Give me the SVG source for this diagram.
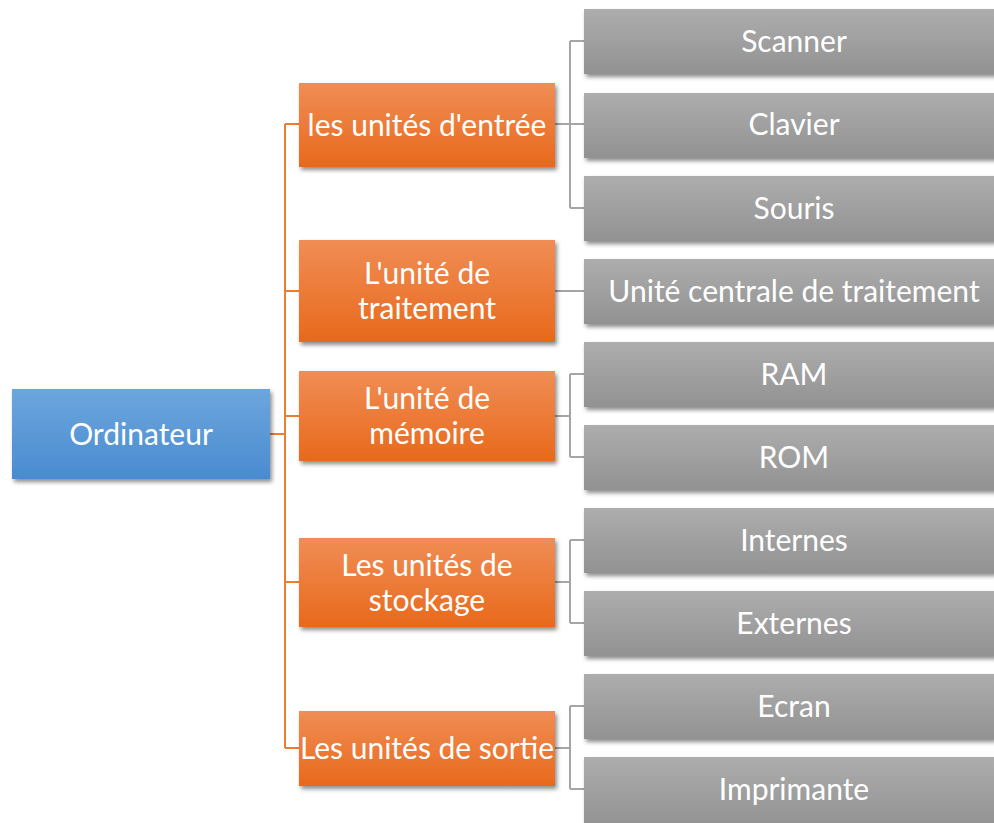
<svg xmlns="http://www.w3.org/2000/svg" width="994" height="823" viewBox="0 0 994 823">
<style>
text{font-family:Lato,"Open Sans","Liberation Sans",sans-serif;font-size:30px;fill:#ffffff;text-anchor:middle;dominant-baseline:central}
.oc{fill:none;stroke:#ed7d31;stroke-width:2}
.gc{fill:none;stroke:#a5a5a5;stroke-width:2}
</style>
<defs>
<linearGradient id="gb" x1="0" y1="0" x2="0" y2="1"><stop offset="0" stop-color="#6ca6dd"/><stop offset="1" stop-color="#4a8bd0"/></linearGradient>
<linearGradient id="go" x1="0" y1="0" x2="0" y2="1"><stop offset="0" stop-color="#f08d55"/><stop offset="1" stop-color="#e8691b"/></linearGradient>
<linearGradient id="gg" x1="0" y1="0" x2="0" y2="1"><stop offset="0" stop-color="#adadad"/><stop offset="1" stop-color="#929292"/></linearGradient>
<filter id="sh" x="-10%" y="-10%" width="130%" height="140%"><feDropShadow dx="2" dy="3" stdDeviation="2" flood-color="#000" flood-opacity="0.45"/></filter>
</defs>
<g id="connectors">
<path class="oc" d="M270 434H285M285 124V748M285 124H299M285 291H299M285 416H299M285 582H299M285 748H299"/>
<path class="gc" d="M555 124H570M570 41V208M570 41H584M570 124H584M570 208H584"/>
<path class="gc" d="M555 291H584"/>
<path class="gc" d="M555 416H570M570 374V457M570 374H584M570 457H584"/>
<path class="gc" d="M555 582H570M570 540V623M570 540H584M570 623H584"/>
<path class="gc" d="M555 748H570M570 706V789M570 706H584M570 789H584"/>
</g>
<g id="n-ordinateur"><rect x="12" y="389" width="258" height="90" fill="url(#gb)" filter="url(#sh)"/><text x="141" y="433">Ordinateur</text></g>
<g id="n-entree"><rect x="299" y="83" width="256" height="84" fill="url(#go)" filter="url(#sh)"/><text x="427" y="124">les unités d'entrée</text></g>
<g id="n-traitement"><rect x="299" y="240" width="256" height="102" fill="url(#go)" filter="url(#sh)"/><text x="427" y="272">L'unité de</text><text x="427" y="307">traitement</text></g>
<g id="n-memoire"><rect x="299" y="371" width="256" height="90" fill="url(#go)" filter="url(#sh)"/><text x="427" y="397">L'unité de</text><text x="427" y="432">mémoire</text></g>
<g id="n-stockage"><rect x="299" y="538" width="256" height="89" fill="url(#go)" filter="url(#sh)"/><text x="427" y="564">Les unités de</text><text x="427" y="599">stockage</text></g>
<g id="n-sortie"><rect x="299" y="711" width="256" height="75" fill="url(#go)" filter="url(#sh)"/><text x="427" y="747">Les unités de sortie</text></g>
<g id="n-scanner"><rect x="584" y="9" width="412" height="65" fill="url(#gg)" filter="url(#sh)"/><text x="794" y="40">Scanner</text></g>
<g id="n-clavier"><rect x="584" y="93" width="412" height="65" fill="url(#gg)" filter="url(#sh)"/><text x="794" y="123">Clavier</text></g>
<g id="n-souris"><rect x="584" y="176" width="412" height="65" fill="url(#gg)" filter="url(#sh)"/><text x="794" y="207">Souris</text></g>
<g id="n-ucentrale"><rect x="584" y="259" width="412" height="65" fill="url(#gg)" filter="url(#sh)"/><text x="794" y="290">Unité centrale de traitement</text></g>
<g id="n-ram"><rect x="584" y="342" width="412" height="65" fill="url(#gg)" filter="url(#sh)"/><text x="794" y="373">RAM</text></g>
<g id="n-rom"><rect x="584" y="425" width="412" height="65" fill="url(#gg)" filter="url(#sh)"/><text x="794" y="456">ROM</text></g>
<g id="n-internes"><rect x="584" y="508" width="412" height="65" fill="url(#gg)" filter="url(#sh)"/><text x="794" y="539">Internes</text></g>
<g id="n-externes"><rect x="584" y="591" width="412" height="65" fill="url(#gg)" filter="url(#sh)"/><text x="794" y="622">Externes</text></g>
<g id="n-ecran"><rect x="584" y="674" width="412" height="65" fill="url(#gg)" filter="url(#sh)"/><text x="794" y="705">Ecran</text></g>
<g id="n-imprimante"><rect x="584" y="757" width="412" height="70" fill="url(#gg)" filter="url(#sh)"/><text x="794" y="788">Imprimante</text></g>
</svg>
